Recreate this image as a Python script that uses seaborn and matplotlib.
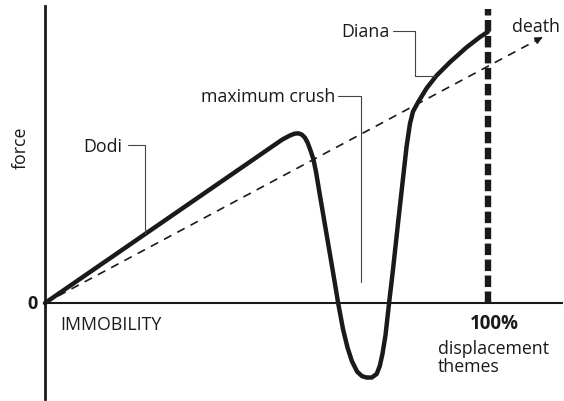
import numpy as np
import pandas as pd
import matplotlib
matplotlib.use("Agg")
import matplotlib.pyplot as plt
import seaborn as sns

# Force curve (x = % displacement, y = force)
curve_x = [0.0, 53.6, 55.3, 56.3, 57.2, 58.0, 58.7, 59.3, 59.9, 60.6, 61.2, 62.0,
           63.5, 65.0, 66.2, 67.3, 68.3, 69.3, 70.5, 71.6, 72.6, 73.8, 74.9, 75.6,
           76.2, 76.9, 77.7, 78.6, 79.75, 80.9, 81.65, 82.4, 83.1, 84.3, 86.2, 88.4,
           91.4, 95.2, 98.2, 99.7, 100.0]
curve_y = [0.0, 36.9, 37.8, 38.2, 38.3, 38.0, 37.3, 36.2, 34.6, 32.5, 29.6, 24.8,
           16.0, 7.2, 0.0, -5.9, -10.0, -13.1, -15.5, -16.5, -16.8, -16.8, -16.0, -14.2,
           -11.5, -7.2, 0.0, 7.7, 18.3, 28.6, 35.3, 40.4, 43.2, 45.4, 48.5, 51.3,
           54.3, 57.7, 60.0, 61.0, 61.2]

# Dashed trend towards "death"
trend_x = [0.0, 112.9]
trend_y = [0.0, 60.3]

sns.set_style("white")
plt.rcParams['font.family'] = ['Open Sans', 'DejaVu Sans']

fig = plt.figure(figsize=(5.64, 4.02), dpi=100)
ax = fig.add_axes([0, 0, 1, 1])

curve = pd.DataFrame({"x": curve_x, "y": curve_y})
sns.lineplot(data=curve, x="x", y="y", sort=False, color="#1a1a1a", lw=3.2,
             solid_joinstyle="round", solid_capstyle="round", ax=ax)

trend = pd.DataFrame({"x": trend_x, "y": trend_y})
sns.lineplot(data=trend, x="x", y="y", color="#1a1a1a", lw=1.2,
             ax=ax).lines[-1].set_dashes([5, 4])
ax.annotate("", xy=(trend_x[1], trend_y[1]), xytext=(110.5, 59.0),
            arrowprops=dict(arrowstyle="-|>", color="#1a1a1a", lw=1.2,
                            mutation_scale=10))

# 100% marker
ax.plot([100, 100], [0, 66.4], color="#1a1a1a", lw=4.6, dashes=[1.8, 0.7],
        solid_capstyle="butt", dash_capstyle="butt")

# axes
ax.set_xlim(-10.16, 117.2)
ax.set_ylim(-22.1, 68.6)
for s in ["top", "right"]:
    ax.spines[s].set_visible(False)
ax.spines["left"].set_position(("data", 0))
ax.spines["bottom"].set_position(("data", 0))
ax.spines["left"].set_bounds(-21.7, 67.0)
ax.spines["bottom"].set_bounds(0, 116.7)
ax.spines["left"].set_linewidth(2.0)
ax.spines["bottom"].set_linewidth(1.5)
ax.spines["left"].set_color("#1a1a1a")
ax.spines["bottom"].set_color("#1a1a1a")
ax.set_xticks([])
ax.set_yticks([])
ax.set_xlabel("")
ax.set_ylabel("")
ax.patch.set_alpha(0)

# leader lines
lc = "#444444"
ax.plot([18.7, 22.6, 22.6], [35.7, 35.7, 15.6], color=lc, lw=0.8)
ax.plot([66.1, 71.3, 71.3], [46.7, 46.7, 4.7], color=lc, lw=0.8)
ax.plot([78.6, 83.5, 83.5, 88.0], [61.4, 61.4, 51.2, 51.2], color=lc, lw=0.8)

fs = 12.8
tc = "#1a1a1a"
ax.text(17.4, 35.4, "Dodi", ha="right", va="center", fontsize=fs, color=tc)
ax.text(65.5, 46.7, "maximum crush", ha="right", va="center", fontsize=fs, color=tc)
ax.text(77.9, 61.4, "Diana", ha="right", va="center", fontsize=fs, color=tc)
ax.text(105.4, 62.5, "death", ha="left", va="center", fontsize=fs, color=tc)
ax.text(-1.6, 0, "0", ha="right", va="center", fontsize=13, fontweight="bold", color=tc)
ax.text(3.4, -4.7, "IMMOBILITY", ha="left", va="center", fontsize=fs, color=tc)
ax.text(101.4, -4.5, "100%", ha="center", va="center", fontsize=13.5, fontweight="bold", color=tc)
ax.text(88.7, -8.2, "displacement\nthemes", ha="left", va="top", fontsize=fs,
        color=tc, linespacing=0.95)
ax.text(-5.6, 35.2, "force", ha="center", va="center", rotation=90, fontsize=fs, color=tc)

fig.savefig("out.png", dpi=100, facecolor="white")
